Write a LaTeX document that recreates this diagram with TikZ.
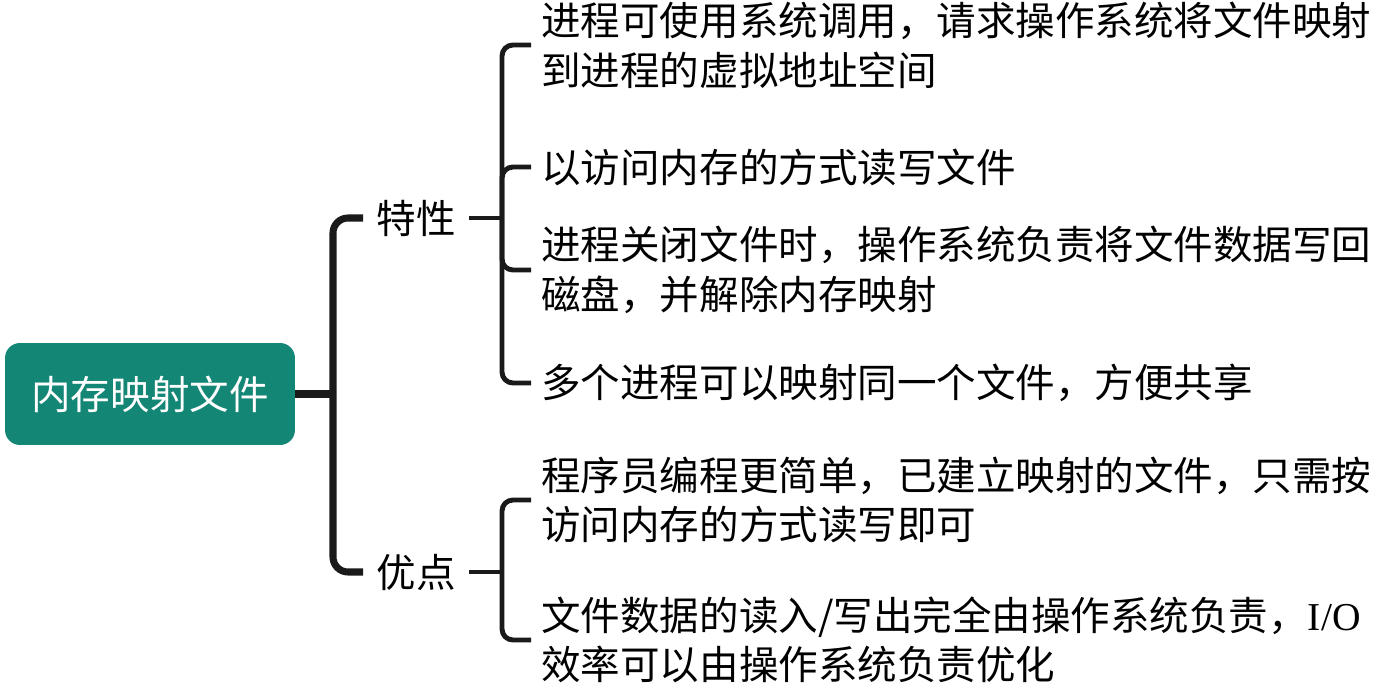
\documentclass[tikz,border=0pt]{standalone}
\usepackage{fontspec}
\setmainfont{Noto Sans CJK SC}
\newfontfamily\latinserif{Liberation Serif}
\usepackage{xcolor}
\usetikzlibrary{positioning}
\definecolor{rootteal}{RGB}{20,134,118}
\definecolor{inkline}{RGB}{26,26,26}

\begin{document}
\begin{tikzpicture}[
  x=0.02cm, y=-0.02cm,
  every node/.style={font=\fontsize{22.5pt}{28.3pt}\selectfont},
  rootbox/.style ={rectangle, fill=rootteal, text=white, rounded corners=0.3cm,
                   minimum width=5.8cm, minimum height=2.04cm},
  branch/.style  ={inner xsep=0.26cm, inner ysep=0pt},
  leaf/.style    ={anchor=west, align=left, inner xsep=0.2cm, inner ysep=0pt},
  trunk/.style   ={draw=inkline, line width=4pt, rounded corners=0.3cm},
  twig/.style    ={draw=inkline, line width=2.8pt, rounded corners=0.22cm}
]
\useasboundingbox (0,0) rectangle (1389,692);

%--- Root and branches -------------------------------------------------------
\node[rootbox] (root) at (150,394) {内存映射文件};
\node[branch]  (feat) at (416,218) {特性};
\node[branch]  (adv)  at (416,572) {优点};

%--- Leaves ------------------------------------------------------------------
\node[leaf] (f1) at (531,45)  {进程可使用系统调用，请求操作系统将文件映射\\到进程的虚拟地址空间};
\node[leaf] (f2) at (531,167) {以访问内存的方式读写文件};
\node[leaf] (f3) at (531,270) {进程关闭文件时，操作系统负责将文件数据写回\\磁盘，并解除内存映射};
\node[leaf] (f4) at (531,383) {多个进程可以映射同一个文件，方便共享};
\node[leaf] (a1) at (531,500) {程序员编程更简单，已建立映射的文件，只需按\\访问内存的方式读写即可};
\node[leaf] (a2) at (531,640) {文件数据的读入/写出完全由操作系统负责，{\latinserif I/O}\\效率可以由操作系统负责优化};

%--- Junctions ---------------------------------------------------------------
\coordinate (j0) at (333,394);
\coordinate (j1) at (502,218);
\coordinate (j2) at (502,572);

%--- connection --------------------------------------------------------------
\draw[trunk] (root.east) -- (j0);
\draw[trunk] (j0) |- (feat.west);
\draw[trunk] (j0) |- (adv.west);

\draw[twig] (feat.east) -- (j1);
\foreach \n in {f1,f2,f3,f4}
  \draw[twig] (j1) |- (\n.west);

\draw[twig] (adv.east) -- (j2);
\foreach \n in {a1,a2}
  \draw[twig] (j2) |- (\n.west);
\end{tikzpicture}
\end{document}
